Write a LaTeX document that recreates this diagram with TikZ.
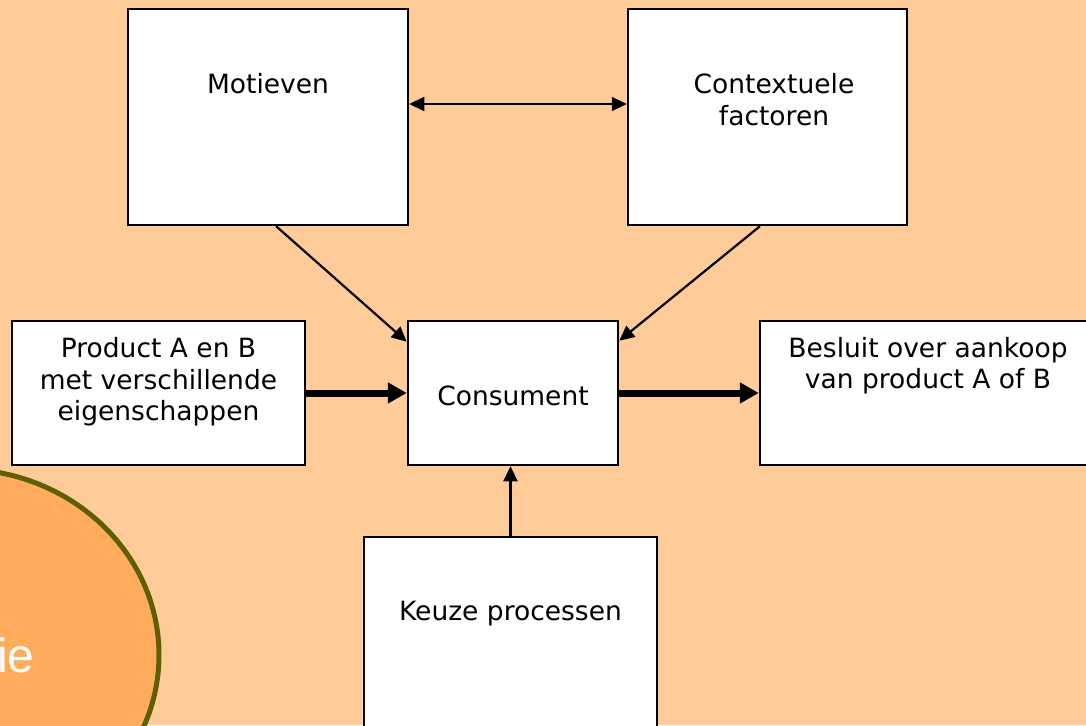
\documentclass[tikz,border=0pt]{standalone}
\usepackage{fontspec}
\setmainfont{DejaVu Sans}
\newfontfamily\arialf{Liberation Sans}
\usetikzlibrary{arrows.meta,calc}
\definecolor{bgpeach}{HTML}{FFCC99}
\definecolor{ellfill}{HTML}{FFAD5C}
\definecolor{ellline}{HTML}{5F5F00}
\tikzset{
  box/.style={draw=black, line width=2.5pt, fill=white, inner sep=0pt, anchor=center},
  txt/.style={inner sep=0pt, anchor=base, font=\fontsize{26.5}{31}\selectfont},
  thinarrow/.style={line width=2.2pt, -{Triangle[length=15pt,width=14pt]}},
  thickarrow/.style={line width=7pt, -{Triangle[length=19pt,width=20pt]}}
}
\begin{document}
\begin{tikzpicture}[x=1pt,y=-1pt]
\useasboundingbox (0,0) rectangle (1086,725);
\clip (0,0) rectangle (1086,725);
\fill[bgpeach] (0,0) rectangle (1086,725);
% ellipse bottom-left
\draw[line width=5pt, draw=ellline, fill=ellfill] (-40,655) ellipse [x radius=199pt, y radius=186pt];
\node[inner sep=0pt, anchor=base west, text=white, font=\arialf\fontsize{48}{56}\selectfont] (ietext) at (-3,672) {ie};
% boxes
\node[box, minimum width=280pt, minimum height=216pt] (mot) at (268,117) {};
\node[box, minimum width=279pt, minimum height=216pt] (ctx) at (767.5,117) {};
\node[box, minimum width=293pt, minimum height=144pt] (prod) at (158.5,393) {};
\node[box, minimum width=210pt, minimum height=144pt] (cons) at (513,393) {};
\node[box, minimum width=336pt, minimum height=144pt] (bes) at (928,393) {};
\node[box, minimum width=293pt, minimum height=290pt] (keu) at (510.5,682) {};
% texts
\node[txt] (motT) at (268,93) {Motieven};
\node[txt] (ctxT1) at (774,93) {Contextuele};
\node[txt] (ctxT2) at (774,125) {factoren};
\node[txt] (prodT1) at (158.5,357) {Product A en B};
\node[txt] (prodT2) at (158.5,389) {met verschillende};
\node[txt] (prodT3) at (158.5,420) {eigenschappen};
\node[txt] (consT) at (513,405) {Consument};
\node[txt] (besT1) at (928,357) {Besluit over aankoop};
\node[txt] (besT2) at (928,388) {van product A of B};
\node[txt] (keuT) at (510.5,620.5) {Keuze processen};
% connectors
\draw[line width=2.2pt, {Triangle[length=15pt,width=14pt]}-{Triangle[length=15pt,width=14pt]}]
  ([yshift=13pt]mot.east) -- ([yshift=13pt]ctx.west);
\draw[thinarrow] ($(mot.south west)!0.529!(mot.south east)$) -- ([yshift=-22pt]cons.north west);
\draw[thinarrow] ($(ctx.south west)!0.473!(ctx.south east)$) -- ([yshift=-21pt]cons.north east);
\draw[thickarrow] (prod.east) -- (cons.west);
\draw[thickarrow] (cons.east) -- (bes.west);
\draw[thinarrow] (keu.north) -- (keu.north |- cons.south);
\end{tikzpicture}
\end{document}
